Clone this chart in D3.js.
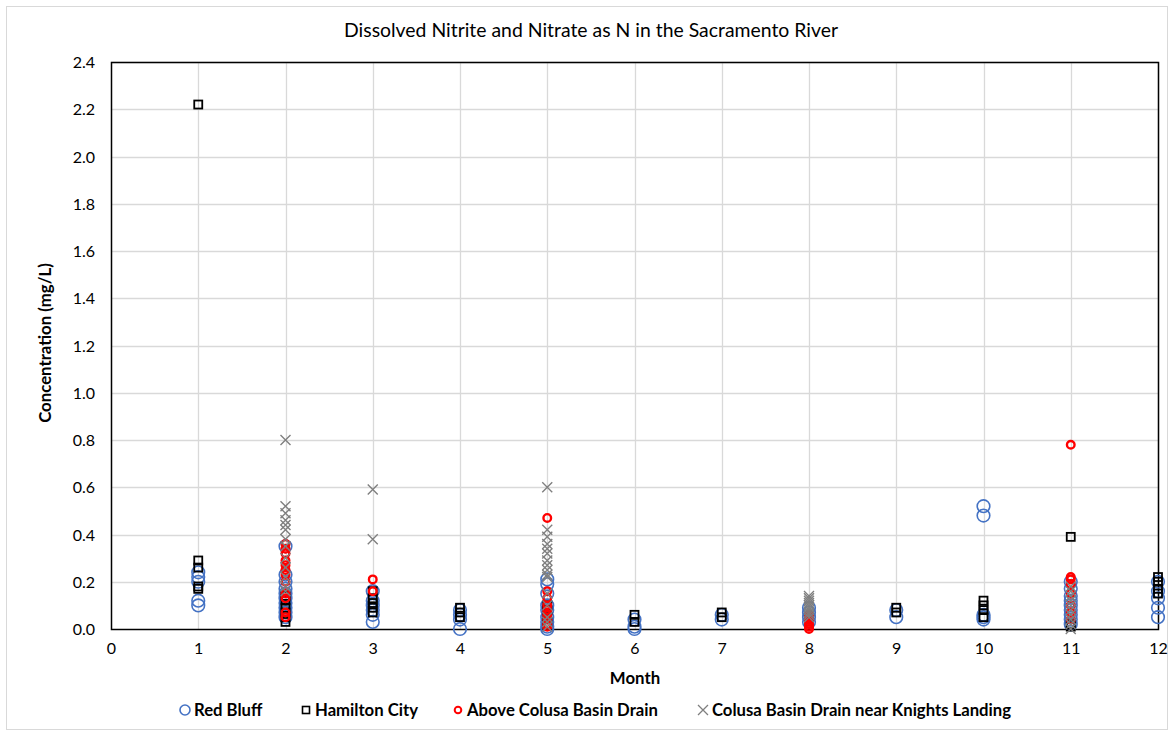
<!DOCTYPE html>
<html>
<head>
<meta charset="utf-8">
<script src="https://cdn.jsdelivr.net/npm/d3@7"></script>
<style>
  body { margin: 0; background: #fff; }
  svg text { font-family: Lato, "Open Sans", "Liberation Sans", sans-serif; fill: #000; }
</style>
</head>
<body>
<svg id="chart" width="1170" height="731"></svg>
<script>
const title = "Dissolved Nitrite and Nitrate as N in the Sacramento River";
const xTicks = [0,1,2,3,4,5,6,7,8,9,10,11,12];
const yTicks = [0,0.2,0.4,0.6,0.8,1.0,1.2,1.4,1.6,1.8,2.0,2.2,2.4];
const seriesNames = ["Red Bluff", "Hamilton City", "Above Colusa Basin Drain", "Colusa Basin Drain near Knights Landing"];

// [month, value]
const redBluff = [
  [1,0.24],[1,0.22],[1,0.20],[1,0.12],[1,0.10],
  [2,0.35],[2,0.23],[2,0.20],[2,0.17],[2,0.15],[2,0.13],[2,0.11],[2,0.09],[2,0.07],[2,0.05],
  [3,0.16],[3,0.12],[3,0.10],[3,0.08],[3,0.06],[3,0.03],
  [4,0.08],[4,0.06],[4,0.04],[4,0.00],
  [5,0.21],[5,0.19],[5,0.15],[5,0.10],[5,0.08],[5,0.05],[5,0.03],[5,0.01],[5,0.00],
  [6,0.04],[6,0.01],[6,0.00],
  [7,0.06],[7,0.04],
  [8,0.09],[8,0.07],[8,0.05],[8,0.03],
  [9,0.08],[9,0.05],
  [10,0.52],[10,0.48],[10,0.06],[10,0.05],[10,0.04],
  [11,0.20],[11,0.17],[11,0.14],[11,0.12],[11,0.10],[11,0.08],[11,0.06],[11,0.04],[11,0.02],
  [12,0.20],[12,0.16],[12,0.13],[12,0.09],[12,0.05]
];
const hamiltonCity = [
  [1,2.22],[1,0.29],[1,0.26],[1,0.18],[1,0.17],
  [2,0.14],[2,0.12],[2,0.09],[2,0.07],[2,0.05],[2,0.03],
  [3,0.16],[3,0.13],[3,0.11],[3,0.09],[3,0.07],
  [4,0.09],[4,0.07],[4,0.05],
  [5,0.10],[5,0.08],[5,0.05],[5,0.02],
  [6,0.06],[6,0.03],
  [7,0.07],[7,0.05],
  [9,0.09],[9,0.07],
  [10,0.12],[10,0.10],[10,0.08],[10,0.05],
  [11,0.39],[11,0.02],[11,0.01],
  [12,0.22],[12,0.20],[12,0.17],[12,0.15]
];
const aboveColusa = [
  [2,0.36],[2,0.34],[2,0.32],[2,0.29],[2,0.27],[2,0.25],[2,0.23],[2,0.20],[2,0.15],[2,0.13],[2,0.07],[2,0.05],
  [3,0.21],[3,0.16],
  [5,0.47],[5,0.16],[5,0.13],[5,0.10],[5,0.08],[5,0.06],[5,0.04],[5,0.02],[5,0.01],
  [8,0.06],[8,0.05],[8,0.04],[8,0.03],[8,0.02],[8,0.01],[8,0.00],
  [11,0.78],[11,0.22],[11,0.21],[11,0.19],[11,0.15],[11,0.10],[11,0.07],[11,0.04]
];
const colusaBasin = [
  [2,0.80],[2,0.52],[2,0.49],[2,0.46],[2,0.44],[2,0.42],[2,0.38],[2,0.35],[2,0.30],[2,0.26],[2,0.22],[2,0.18],[2,0.16],
  [3,0.59],[3,0.38],
  [5,0.60],[5,0.42],[5,0.39],[5,0.36],[5,0.34],[5,0.32],[5,0.29],[5,0.27],[5,0.25],[5,0.23],[5,0.22],[5,0.15],[5,0.10],[5,0.05],[5,0.03],[5,0.01],
  [8,0.14],[8,0.13],[8,0.12],[8,0.11],[8,0.10],[8,0.09],[8,0.08],[8,0.07],[8,0.06],[8,0.05],
  [11,0.18],[11,0.16],[11,0.14],[11,0.12],[11,0.10],[11,0.08],[11,0.06],[11,0.04],[11,0.02],[11,0.00]
];

const svg = d3.select("#chart");
const W = 1170, H = 731;
const m = {left: 111, top: 62, right: 1158, bottom: 629};

// outer chart border
svg.append("rect").attr("x", 6.5).attr("y", 6.5).attr("width", W - 9).attr("height", H - 8)
  .attr("fill", "#fff").attr("stroke", "#d9d9d9").attr("stroke-width", 1);

const x = d3.scaleLinear().domain([0, 12]).range([m.left, m.right]);
const y = d3.scaleLinear().domain([0, 2.4]).range([m.bottom, m.top]);

// gridlines
svg.append("g").selectAll("line.h").data(yTicks.slice(1)).join("line")
  .attr("x1", m.left).attr("x2", m.right)
  .attr("y1", d => Math.round(y(d)) + 0.5).attr("y2", d => Math.round(y(d)) + 0.5)
  .attr("stroke", "#d9d9d9").attr("stroke-width", 1.3);
svg.append("g").selectAll("line.v").data(xTicks.slice(1)).join("line")
  .attr("y1", m.top).attr("y2", m.bottom)
  .attr("x1", d => Math.round(x(d)) + 0.5).attr("x2", d => Math.round(x(d)) + 0.5)
  .attr("stroke", "#d9d9d9").attr("stroke-width", 1.3);

// axes
const yAxis = d3.axisLeft(y).tickValues(yTicks).tickFormat(d3.format(".1f")).tickSize(0).tickPadding(16);
const gy = svg.append("g").attr("transform", `translate(${m.left},0)`).call(yAxis);
gy.select(".domain").remove();
gy.selectAll("text").attr("font-size", 16).attr("dy", "0.35em");

const xAxis = d3.axisBottom(x).tickValues(xTicks).tickFormat(d3.format("d")).tickSize(0).tickPadding(14);
const gx = svg.append("g").attr("transform", `translate(0,${m.bottom})`).call(xAxis);
gx.select(".domain").remove();
gx.selectAll("text").attr("font-size", 16);

// plot border
svg.append("rect").attr("x", m.left + 0.5).attr("y", m.top + 0.5)
  .attr("width", m.right - m.left).attr("height", m.bottom - m.top)
  .attr("fill", "none").attr("stroke", "#000").attr("stroke-width", 1.5);

// markers
const blue = "#4472C4", grey = "#7f7f7f", red = "#ff0000";
svg.append("g").selectAll("circle").data(redBluff).join("circle")
  .attr("cx", d => x(d[0])).attr("cy", d => y(d[1])).attr("r", 6.3)
  .attr("fill", "none").attr("stroke", blue).attr("stroke-width", 1.6);
svg.append("g").selectAll("rect").data(hamiltonCity).join("rect")
  .attr("x", d => x(d[0]) - 4).attr("y", d => y(d[1]) - 4).attr("width", 8).attr("height", 8)
  .attr("fill", "none").attr("stroke", "#000").attr("stroke-width", 1.8);
svg.append("g").selectAll("circle").data(aboveColusa).join("circle")
  .attr("cx", d => x(d[0])).attr("cy", d => y(d[1])).attr("r", 3.8)
  .attr("fill", "none").attr("stroke", red).attr("stroke-width", 2.4);
const xs = 5;
svg.append("g").selectAll("path").data(colusaBasin).join("path")
  .attr("d", d => { const cx = x(d[0]), cy = y(d[1]);
    return `M${cx-xs},${cy-xs}L${cx+xs},${cy+xs}M${cx-xs},${cy+xs}L${cx+xs},${cy-xs}`; })
  .attr("stroke", grey).attr("stroke-width", 1.4).attr("fill", "none");

// title & axis titles
svg.append("text").attr("x", 591).attr("y", 37).attr("text-anchor", "middle")
  .attr("font-size", 19.4).text(title);
svg.append("text").attr("transform", "translate(51,343) rotate(-90)").attr("text-anchor", "middle")
  .attr("font-size", 16.8).attr("font-weight", "bold").text("Concentration (mg/L)");
svg.append("text").attr("x", 635).attr("y", 684).attr("text-anchor", "middle")
  .attr("font-size", 16.8).attr("font-weight", "bold").text("Month");

// legend
const legX = [185, 306, 458, 703];
const lg = svg.append("g").selectAll("g").data(seriesNames).join("g")
  .attr("transform", (d, i) => `translate(${legX[i]},710)`);
lg.append("text").attr("x", 9).attr("y", 6).attr("font-size", 16.7).attr("font-weight", "bold").text(d => d);
lg.each(function(d, i) {
  const g = d3.select(this);
  if (i === 0) g.append("circle").attr("r", 5).attr("fill", "none").attr("stroke", blue).attr("stroke-width", 1.6);
  if (i === 1) g.append("rect").attr("x", -3.5).attr("y", -3.5).attr("width", 7).attr("height", 7).attr("fill", "none").attr("stroke", "#000").attr("stroke-width", 1.6);
  if (i === 2) g.append("circle").attr("r", 3.3).attr("fill", "none").attr("stroke", red).attr("stroke-width", 2);
  if (i === 3) g.append("path").attr("d", "M-5,-5L5,5M-5,5L5,-5").attr("stroke", grey).attr("stroke-width", 1.3);
});
</script>
</body>
</html>
